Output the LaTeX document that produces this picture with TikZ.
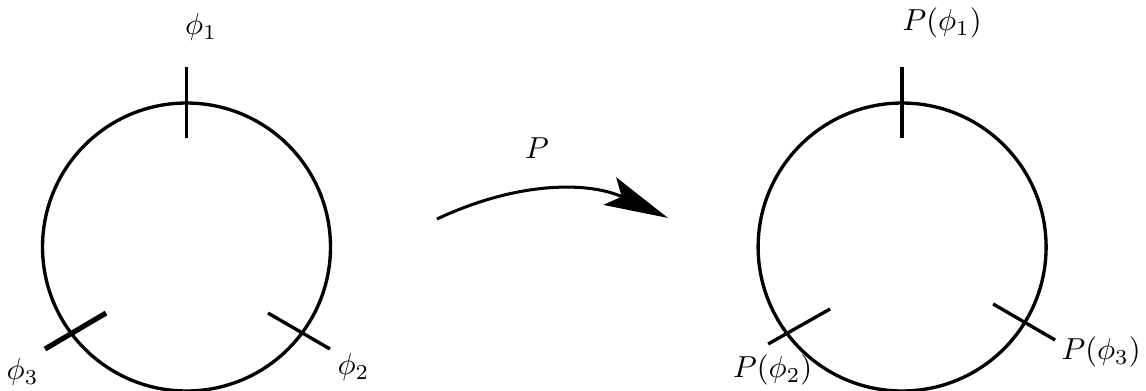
\documentclass[tikz,border=0pt]{standalone}
\usetikzlibrary{arrows.meta}
\begin{document}
\begin{tikzpicture}[line width=1.1pt]
\useasboundingbox (-2.158,-1.666) rectangle (11.102,2.858);

% left circle
\draw (0,0) circle (1.666);
\draw (0,1.261) -- (0,2.083);
\draw (0.943,-0.764) -- (1.660,-1.180);
\draw[line width=1.7pt] (-1.637,-1.180) -- (-0.931,-0.764);

\node (f1) at (0.168,2.545) {$\phi_1$};
\node (f2) at (1.932,-1.388) {$\phi_2$};
\node (f3) at (-1.897,-1.446) {$\phi_3$};

% right circle
\draw (8.28,0) circle (1.666);
\draw (8.28,1.261) -- (8.28,2.083);
\draw (6.730,-1.122) -- (7.447,-0.717);
\draw (9.333,-0.659) -- (10.050,-1.076);

\node (p1) at (8.743,2.592) {$P(\phi_1)$};
\node (p2) at (6.782,-1.423) {$P(\phi_2)$};
\node (p3) at (10.582,-1.215) {$P(\phi_3)$};

% the map
\coordinate (a) at (2.898,0.324);
\coordinate (b) at (5.571,0.336);
\draw[line width=1pt,-{Stealth[length=7.4mm,width=3.5mm,inset=1.5mm]}]
  (a) .. controls (3.86,0.775) and (4.67,0.752) .. (b);
\node (P) at (4.055,1.145) {$P$};
\end{tikzpicture}
\end{document}
